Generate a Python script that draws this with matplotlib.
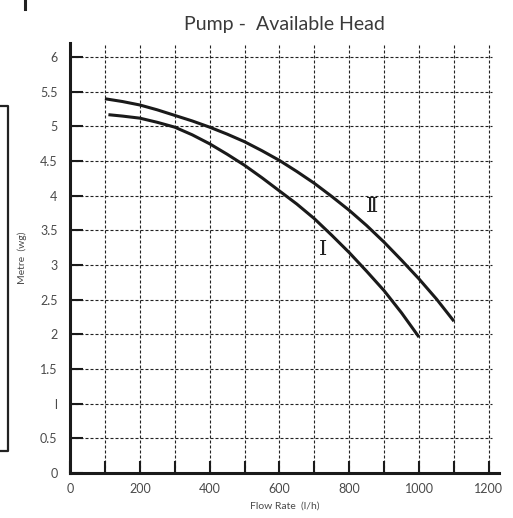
import matplotlib.pyplot as plt
from matplotlib.lines import Line2D

# curve I (lower) and curve II (upper)
flow_1 = [110, 150, 200, 250, 300, 350, 400, 450, 500, 550, 600, 650,
          700, 750, 800, 850, 900, 950, 1000]
head_1 = [5.17, 5.15, 5.12, 5.06, 4.99, 4.88, 4.75, 4.60, 4.44, 4.26, 4.07, 3.88,
          3.67, 3.43, 3.18, 2.91, 2.63, 2.31, 1.96]
flow_2 = [100, 150, 200, 250, 300, 350, 400, 450, 500, 550, 600, 650,
          700, 750, 800, 850, 900, 950, 1000, 1050, 1100]
head_2 = [5.40, 5.36, 5.31, 5.24, 5.16, 5.08, 4.99, 4.89, 4.78, 4.65, 4.51, 4.35,
          4.18, 3.99, 3.79, 3.57, 3.33, 3.07, 2.80, 2.51, 2.19]

x_ticks = [0, 200, 400, 600, 800, 1000, 1200]
y_ticks = [0, 0.5, 1, 1.5, 2, 2.5, 3, 3.5, 4, 4.5, 5, 5.5, 6]
y_labels = ["0", "0.5", "l", "1.5", "2", "2.5", "3", "3.5", "4", "4.5", "5", "5.5", "6"]

plt.rcParams["font.family"] = ["Lato", "DejaVu Sans"]
txt = "#4a4a4a"

fig = plt.figure(figsize=(5.13, 5.18), dpi=100)
ax = fig.add_axes([0.1365, 0.0869, 0.8368, 0.8295])
ax.set_xlim(0, 1230)
ax.set_ylim(0, 6.2)

# dashed grid
dash = (0, (2.7, 1.8))
for gx in range(100, 1201, 100):
    ax.plot([gx, gx], [0, 6.2], color="#222222", lw=0.8, ls=dash, zorder=1)
for gy in y_ticks[1:]:
    ax.plot([0, 1210], [gy, gy], color="#222222", lw=0.8, ls=dash, zorder=1)

ax.plot(flow_1, head_1, color="#1a1a1a", lw=2.2, solid_capstyle="butt", zorder=3)
ax.plot(flow_2, head_2, color="#1a1a1a", lw=2.2, solid_capstyle="butt", zorder=3)
ax.text(724, 3.22, "\u2160", fontsize=15, family="DejaVu Serif", color="#222222",
        ha="center", va="center")
ax.text(866, 3.84, "\u2161", fontsize=15, family="DejaVu Serif", color="#222222",
        ha="center", va="center")

for s in ["top", "right"]:
    ax.spines[s].set_visible(False)
for s in ["left", "bottom"]:
    ax.spines[s].set_linewidth(2.2)
    ax.spines[s].set_color("#1a1a1a")

ax.set_xticks(x_ticks)
ax.set_xticks(range(100, 1200, 200), minor=True)
ax.set_yticks(y_ticks)
ax.set_yticklabels(y_labels)
ax.tick_params(axis="both", which="both", direction="in", length=9, width=1.5,
               labelsize=9, labelcolor=txt, color="#1a1a1a")
ax.tick_params(axis="y", pad=9)
ax.tick_params(axis="x", pad=7)

ax.set_xlabel("Flow Rate  (l/h)", fontsize=7.5, color=txt, labelpad=5)
ax.set_ylabel("Metre  (wg)", fontsize=7.5, color=txt, labelpad=9)
fig.text(0.555, 0.952, "Pump -  Available Head", fontsize=14, color="#3a3a3a",
         ha="center", va="center")

# cropped page artefacts on the left
def px_line(xs, ys, lw):
    fig.add_artist(Line2D([x / 513 for x in xs], [1 - y / 518 for y in ys],
                          transform=fig.transFigure, color="#222222", lw=lw))

px_line([25, 25], [0, 9], 2.2)
px_line([0, 8, 8, 0], [106, 106, 451, 451], 1.6)

fig.savefig("out.png", dpi=100)
